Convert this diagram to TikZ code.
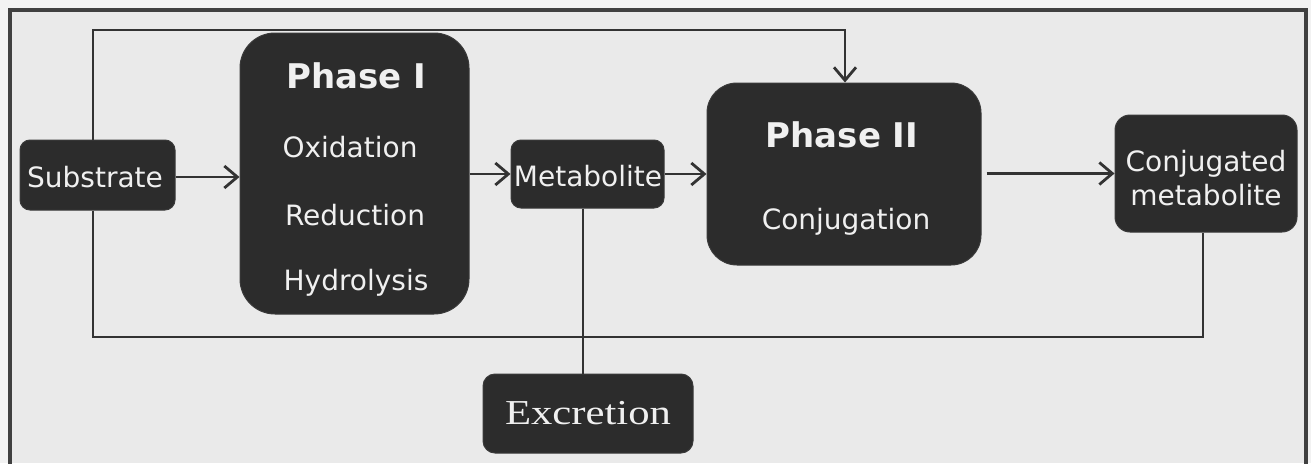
\documentclass[tikz,border=0pt]{standalone}
\usepackage{fontspec}
\setmainfont{DejaVu Sans}
\newfontfamily\serifx[FakeStretch=1.22]{Liberation Serif}
\usetikzlibrary{arrows.meta}
\definecolor{outerbg}{HTML}{F2F2F2}
\definecolor{bg}{HTML}{EAEAEA}
\definecolor{framec}{HTML}{404040}
\definecolor{boxc}{HTML}{2C2C2C}
\definecolor{boxedge}{HTML}{3A3A3A}
\definecolor{linec}{HTML}{333333}
\definecolor{txt}{HTML}{F0F0F0}
\begin{document}
\begin{tikzpicture}[x=1pt,y=-1pt,
  box/.style={draw=boxedge, fill=boxc, line width=1pt, inner sep=0pt, text=txt,
    font=\fontsize{28}{34}\selectfont, align=center},
  lbl/.style={text=txt, font=\fontsize{28}{34}\selectfont, inner sep=0pt, align=center},
  ttl/.style={text=txt, font=\fontsize{34}{36}\selectfont\bfseries, inner sep=0pt},
  conn/.style={draw=linec, line width=2.8pt},
  arr/.style={conn, -{Straight Barb[length=13pt,width=22pt,line width=2.8pt]}}]
\useasboundingbox (0,0) rectangle (1311,463);
\fill[outerbg] (0,0) rectangle (1311,463);
\fill[bg] (10,10) rectangle (1306,463);
\draw[framec, line width=4pt] (10,470) -- (10,10) -- (1306,10) -- (1306,470);

% boxes
\node[box, rounded corners=10pt, minimum width=155pt, minimum height=70pt] (sub) at (97.5,175) {};
\node[lbl] (subt) at (95,177) {Substrate};
\node[box, rounded corners=35pt, minimum width=229pt, minimum height=281pt] (ph1) at (354.5,173.5) {};
\node[box, rounded corners=10pt, minimum width=153pt, minimum height=68pt] (met) at (587.5,174) {};
\node[lbl] (mett) at (588,176) {Metabolite};
\node[box, rounded corners=30pt, minimum width=274pt, minimum height=182pt] (ph2) at (844,174) {};
\node[box, rounded corners=15pt, minimum width=182pt, minimum height=117pt] (conj) at (1206,173.5) {};
\node[lbl] (conjt) at (1206,178) {Conjugated\\metabolite};
\node[box, rounded corners=12pt, minimum width=210pt, minimum height=79pt,
  font=\serifx\fontsize{35}{37}\selectfont] (exc) at (588,413.5) {Excretion};

% texts inside phase boxes
\node[ttl] (ph1t) at (356,76) {Phase I};
\node[lbl] (oxi) at (350,147) {Oxidation};
\node[lbl] (red) at (355,215) {Reduction};
\node[lbl] (hyd) at (356,283) {Hydrolysis};
\node[ttl] (ph2t) at (842,135) {Phase II};
\node[lbl] (cnj) at (846,222) {Conjugation};

% connectors
\draw[arr] (sub.east |- subt) -- (subt -| ph1.west);
\draw[arr] (ph1.east |- met.west) -- (met.west);
\draw[arr] (met.east) -- (met.east -| ph2.west);
\draw[arr] ([xshift=5pt]ph2.east |- conj.west) -- (conj.west);

\coordinate (tl) at (93,30);
\coordinate (tr) at (845,30);
\draw[arr] (sub.north -| tl) -- (tl) -- (tr) -- (tr |- ph2.north);

\coordinate (bl) at (93,337);
\coordinate (br) at (1203,337);
\draw[conn] (sub.south -| bl) -- (bl) -- (br) -- (br |- conj.south);

\coordinate (mx) at (583,0);
\draw[conn] (met.south -| mx) -- (exc.north -| mx);
\end{tikzpicture}
\end{document}
